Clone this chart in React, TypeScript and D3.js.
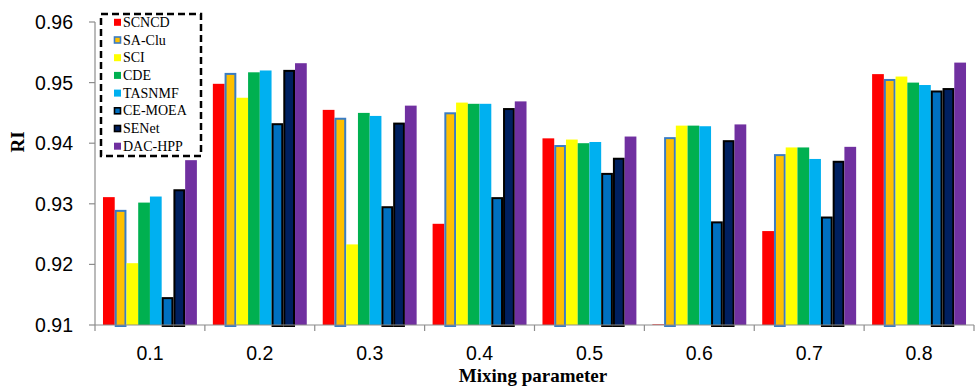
import React from "react";
import * as d3 from "d3";

const categories = ["0.1", "0.2", "0.3", "0.4", "0.5", "0.6", "0.7", "0.8"];
const seriesNames = ["SCNCD", "SA-Clu", "SCI", "CDE", "TASNMF", "CE-MOEA", "SENet", "DAC-HPP"];

const scncd = [0.9311, 0.9498, 0.9455, 0.9267, 0.9408, 0.9101, 0.9255, 0.9514];
const saClu = [0.929, 0.9516, 0.9442, 0.9451, 0.9397, 0.941, 0.9382, 0.9506];
const sci = [0.9202, 0.9475, 0.9233, 0.9467, 0.9406, 0.9429, 0.9393, 0.951];
const cde = [0.9302, 0.9517, 0.945, 0.9465, 0.94, 0.9429, 0.9393, 0.95];
const tasnmf = [0.9312, 0.952, 0.9445, 0.9465, 0.9402, 0.9428, 0.9374, 0.9496];
const ceMoea = [0.9146, 0.9433, 0.9296, 0.9311, 0.9351, 0.9271, 0.9279, 0.9487];
const seNet = [0.9324, 0.9521, 0.9434, 0.9458, 0.9376, 0.9405, 0.9371, 0.9491];
const dacHpp = [0.9372, 0.9532, 0.9462, 0.9469, 0.9411, 0.9431, 0.9394, 0.9533];

const yTicks = [0.91, 0.92, 0.93, 0.94, 0.95, 0.96];

const seriesValues = [scncd, saClu, sci, cde, tasnmf, ceMoea, seNet, dacHpp];

// fill / outline per series
const fills = ["#FF0000", "#FFC000", "#FFFF00", "#00B050", "#00B0F0", "#0070C0", "#002060", "#7030A0"];
const outlines = [null, "#3A7CC4", null, null, null, "#000000", "#000000", null];

const width = 979;
const height = 390;
const margin = { top: 22, right: 5, bottom: 65, left: 95 };

export default function App() {
  const x0 = d3
    .scaleBand<string>()
    .domain(categories)
    .range([margin.left, width - margin.right])
    .padding(0);

  const x1 = d3
    .scaleBand<string>()
    .domain(seriesNames)
    .range([0, x0.bandwidth()])
    .paddingInner(0)
    .paddingOuter(0.68);

  const y = d3
    .scaleLinear()
    .domain([0.91, 0.96])
    .range([height - margin.bottom, margin.top]);

  const baseY = y(0.91);
  const axisColor = "#8c8c8c";

  return (
    <svg
      width={width}
      height={height}
      style={{ position: "absolute", left: 0, top: 0, background: "#fff" }}
    >
      {/* bars */}
      {categories.map((c, ci) => (
        <g key={c} transform={`translate(${x0(c)},0)`}>
          {seriesNames.map((s, si) => {
            const v = seriesValues[si][ci];
            const bx = x1(s) as number;
            const bw = x1.bandwidth();
            const top = y(v);
            const outline = outlines[si];
            if (outline) {
              return (
                <rect
                  key={s}
                  x={bx + 1}
                  y={top + 1}
                  width={bw - 2}
                  height={Math.max(0, baseY - top)}
                  fill={fills[si]}
                  stroke={outline}
                  strokeWidth={2}
                />
              );
            }
            return (
              <rect
                key={s}
                x={bx}
                y={top}
                width={bw}
                height={Math.max(0, baseY - top)}
                fill={fills[si]}
              />
            );
          })}
        </g>
      ))}

      {/* y axis */}
      <line x1={margin.left} x2={margin.left} y1={y(0.96)} y2={baseY} stroke={axisColor} strokeWidth={1.2} />
      {yTicks.map((t) => (
        <g key={t}>
          <line x1={margin.left - 6} x2={margin.left} y1={y(t)} y2={y(t)} stroke={axisColor} strokeWidth={1.2} />
          <text
            x={73}
            y={y(t)}
            textAnchor="end"
            dominantBaseline="central"
            fontFamily="'Liberation Sans', Arial, sans-serif"
            fontSize={19.5}
            fill="#000"
          >
            {t.toFixed(2)}
          </text>
        </g>
      ))}

      {/* x axis */}
      <line x1={margin.left} x2={width - margin.right} y1={baseY} y2={baseY} stroke={axisColor} strokeWidth={1.2} />
      {categories.map((c) => (
        <line
          key={"t" + c}
          x1={x0(c) as number}
          x2={x0(c) as number}
          y1={baseY}
          y2={baseY + 6}
          stroke={axisColor}
          strokeWidth={1.2}
        />
      ))}
      <line
        x1={width - margin.right}
        x2={width - margin.right}
        y1={baseY}
        y2={baseY + 6}
        stroke={axisColor}
        strokeWidth={1.2}
      />
      {categories.map((c) => (
        <text
          key={"l" + c}
          x={(x0(c) as number) + x0.bandwidth() / 2}
          y={353}
          textAnchor="middle"
          dominantBaseline="central"
          fontFamily="'Liberation Sans', Arial, sans-serif"
          fontSize={19.5}
          fill="#000"
        >
          {c}
        </text>
      ))}

      {/* axis titles */}
      <text
        x={533}
        y={382}
        textAnchor="middle"
        fontFamily="'Liberation Serif', 'Times New Roman', serif"
        fontWeight="bold"
        fontSize={19}
        fill="#000"
      >
        Mixing parameter
      </text>
      <text
        transform="translate(24,142) rotate(-90)"
        textAnchor="middle"
        fontFamily="'Liberation Serif', 'Times New Roman', serif"
        fontWeight="bold"
        fontSize={19}
        fill="#000"
      >
        RI
      </text>

      {/* legend */}
      <g>
        <rect
          x={101}
          y={14}
          width={100}
          height={142}
          fill="#fff"
          stroke="#000"
          strokeWidth={2.5}
          strokeDasharray="7,4"
        />
        {seriesNames.map((s, si) => {
          const cy = 22.3 + si * 17.7;
          const outline = outlines[si];
          return (
            <g key={"lg" + s}>
              <rect
                x={outline ? 114.5 : 114}
                y={outline ? cy - 3 : cy - 3.5}
                width={outline ? 6 : 7}
                height={outline ? 6 : 7}
                fill={fills[si]}
                stroke={outline || "none"}
                strokeWidth={outline ? 1.6 : 0}
              />
              <text
                x={123}
                y={cy}
                dominantBaseline="central"
                fontFamily="'Liberation Serif', 'Times New Roman', serif"
                fontSize={14}
                fill="#000"
              >
                {s}
              </text>
            </g>
          );
        })}
      </g>
    </svg>
  );
}
